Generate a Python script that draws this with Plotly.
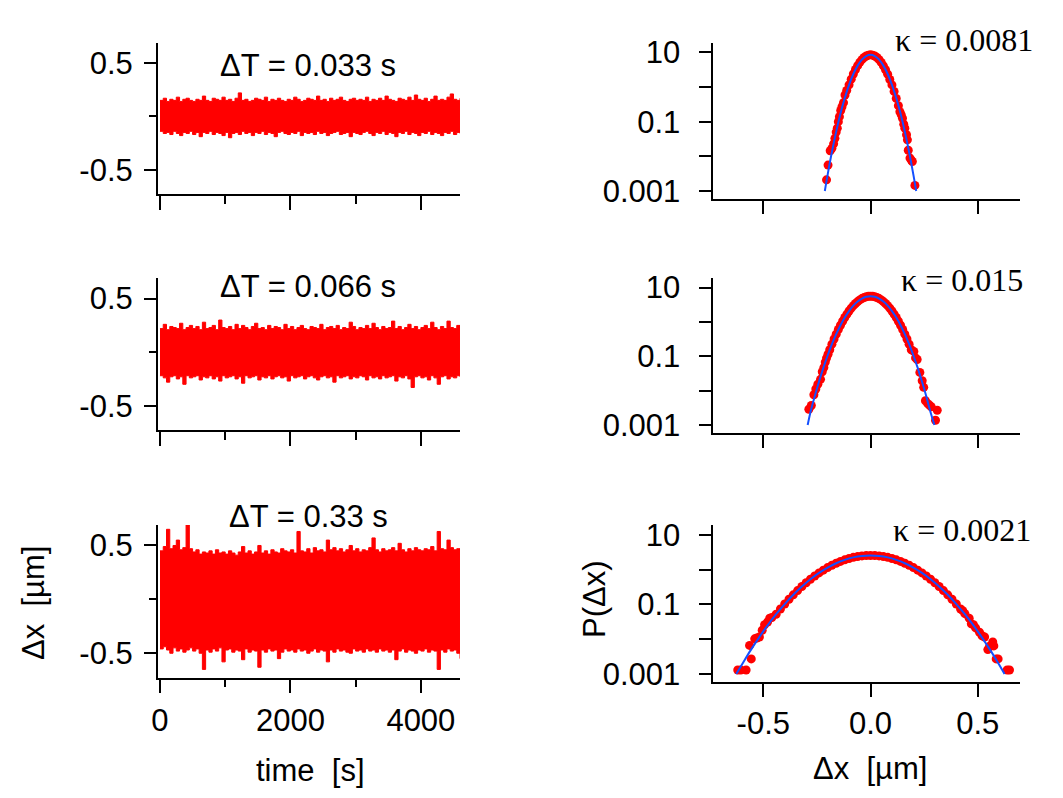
import plotly.graph_objects as go

W, H = 1063, 798

# ---------------- time series envelopes ----------------
t_s = list(range(0, 4601, 50))

U1 = [0.15,0.17,0.14,0.16,0.15,0.18,0.14,0.16,0.17,0.15,
      0.14,0.16,0.15,0.19,0.15,0.14,0.17,0.16,0.15,0.18,
      0.15,0.16,0.14,0.17,0.22,0.15,0.16,0.14,0.15,0.17,
      0.16,0.15,0.18,0.14,0.16,0.15,0.17,0.15,0.14,0.16,
      0.15,0.18,0.16,0.14,0.15,0.17,0.16,0.15,0.19,0.15,
      0.16,0.14,0.17,0.15,0.16,0.18,0.15,0.14,0.16,0.17,
      0.15,0.16,0.15,0.18,0.14,0.16,0.15,0.17,0.15,0.19,
      0.16,0.15,0.14,0.17,0.16,0.15,0.18,0.15,0.20,0.16,
      0.15,0.17,0.14,0.16,0.19,0.15,0.16,0.15,0.18,0.21,
      0.16,0.15,0.17]
L1 = [-0.14,-0.16,-0.15,-0.17,-0.14,-0.16,-0.18,-0.15,-0.16,-0.14,
      -0.17,-0.15,-0.19,-0.15,-0.16,-0.14,-0.17,-0.15,-0.16,-0.18,
      -0.15,-0.20,-0.16,-0.15,-0.17,-0.14,-0.16,-0.15,-0.18,-0.15,
      -0.16,-0.14,-0.17,-0.15,-0.16,-0.19,-0.15,-0.14,-0.16,-0.17,
      -0.15,-0.16,-0.14,-0.18,-0.15,-0.16,-0.15,-0.17,-0.14,-0.16,
      -0.15,-0.18,-0.16,-0.15,-0.14,-0.17,-0.16,-0.15,-0.19,-0.15,
      -0.16,-0.17,-0.15,-0.14,-0.16,-0.18,-0.15,-0.16,-0.14,-0.17,
      -0.15,-0.16,-0.19,-0.15,-0.16,-0.14,-0.17,-0.15,-0.16,-0.18,
      -0.15,-0.16,-0.14,-0.17,-0.15,-0.16,-0.18,-0.15,-0.16,-0.14,
      -0.17,-0.15,-0.16]

U2 = [0.22,0.26,0.21,0.24,0.23,0.22,0.27,0.21,0.23,0.25,
      0.22,0.24,0.21,0.28,0.22,0.23,0.25,0.21,0.30,0.23,
      0.22,0.24,0.21,0.26,0.22,0.25,0.23,0.21,0.24,0.27,
      0.22,0.23,0.21,0.25,0.22,0.24,0.23,0.21,0.26,0.22,
      0.24,0.21,0.23,0.25,0.22,0.21,0.24,0.23,0.22,0.26,
      0.21,0.23,0.24,0.22,0.25,0.21,0.23,0.22,0.28,0.24,
      0.21,0.23,0.22,0.25,0.22,0.27,0.23,0.21,0.24,0.22,
      0.23,0.29,0.22,0.24,0.21,0.23,0.26,0.22,0.24,0.21,
      0.23,0.25,0.22,0.28,0.23,0.21,0.24,0.22,0.29,0.23,
      0.22,0.25,0.23]
L2 = [-0.22,-0.24,-0.28,-0.23,-0.22,-0.25,-0.23,-0.30,-0.22,-0.24,
      -0.23,-0.22,-0.26,-0.23,-0.24,-0.22,-0.25,-0.23,-0.27,-0.22,
      -0.24,-0.23,-0.22,-0.25,-0.23,-0.29,-0.22,-0.24,-0.23,-0.22,
      -0.26,-0.23,-0.24,-0.22,-0.25,-0.23,-0.22,-0.24,-0.23,-0.27,
      -0.22,-0.24,-0.23,-0.22,-0.25,-0.23,-0.22,-0.24,-0.26,-0.23,
      -0.22,-0.24,-0.23,-0.28,-0.22,-0.24,-0.23,-0.22,-0.25,-0.23,
      -0.24,-0.22,-0.23,-0.26,-0.22,-0.24,-0.23,-0.25,-0.22,-0.24,
      -0.23,-0.22,-0.27,-0.23,-0.24,-0.22,-0.25,-0.33,-0.23,-0.22,
      -0.24,-0.23,-0.26,-0.22,-0.24,-0.30,-0.23,-0.22,-0.25,-0.23,
      -0.24,-0.22,-0.23]

U3 = [0.45,0.49,0.65,0.47,0.50,0.55,0.46,0.48,0.69,0.47,
      0.44,0.46,0.42,0.44,0.43,0.45,0.42,0.46,0.43,0.44,
      0.42,0.45,0.43,0.41,0.44,0.49,0.43,0.45,0.42,0.44,
      0.50,0.43,0.45,0.42,0.46,0.44,0.43,0.47,0.45,0.44,
      0.46,0.43,0.63,0.45,0.44,0.47,0.43,0.48,0.45,0.46,
      0.44,0.55,0.46,0.48,0.45,0.47,0.44,0.46,0.50,0.45,
      0.47,0.44,0.46,0.45,0.48,0.57,0.46,0.44,0.47,0.45,
      0.46,0.48,0.45,0.52,0.46,0.44,0.47,0.45,0.48,0.46,
      0.45,0.47,0.46,0.49,0.45,0.63,0.47,0.46,0.55,0.48,
      0.46,0.47,0.45]
L3 = [-0.46,-0.44,-0.47,-0.50,-0.45,-0.48,-0.46,-0.49,-0.47,-0.45,
      -0.48,-0.46,-0.50,-0.65,-0.47,-0.49,-0.46,-0.48,-0.45,-0.58,
      -0.47,-0.46,-0.49,-0.47,-0.48,-0.56,-0.46,-0.49,-0.47,-0.48,
      -0.63,-0.47,-0.49,-0.46,-0.48,-0.47,-0.55,-0.49,-0.46,-0.48,
      -0.47,-0.49,-0.46,-0.48,-0.47,-0.50,-0.48,-0.46,-0.49,-0.47,
      -0.48,-0.58,-0.47,-0.49,-0.46,-0.48,-0.47,-0.49,-0.50,-0.46,
      -0.48,-0.47,-0.49,-0.46,-0.48,-0.47,-0.49,-0.46,-0.48,-0.47,
      -0.49,-0.47,-0.56,-0.48,-0.46,-0.49,-0.47,-0.48,-0.50,-0.47,
      -0.48,-0.46,-0.49,-0.47,-0.48,-0.65,-0.47,-0.49,-0.46,-0.48,
      -0.47,-0.50,-0.55]

dT_labels = ["\u0394T = 0.033 s", "\u0394T = 0.066 s", "\u0394T = 0.33 s"]

# ---------------- histograms P(dx) ----------------
H1_x = [-0.205,-0.198,-0.188,-0.180,-0.172,-0.166,-0.160,-0.155,-0.150,-0.145,
        -0.139,-0.133,-0.126,-0.119,-0.111,-0.10,-0.09,-0.08,-0.07,-0.06,
        -0.05,-0.04,-0.03,-0.02,-0.01,0.0,0.01,0.02,0.03,0.04,
        0.05,0.06,0.07,0.08,0.09,0.10,0.11,0.12,0.13,0.137,
        0.143,0.149,0.155,0.160,0.168,0.172,0.176,0.184,0.190,0.195,0.207]
H1_p = [0.0021,0.0056,0.0145,0.017,0.023,0.033,0.05,0.065,0.10,0.14,
        0.21,0.27,0.355,0.59,0.80,1.16,1.69,2.38,3.2,4.15,
        5.17,6.18,7.11,7.86,8.34,8.51,8.34,7.86,7.11,6.18,
        5.15,4.1,3.15,2.35,1.65,1.15,0.75,0.47,0.29,0.195,
        0.16,0.126,0.085,0.065,0.042,0.03,0.015,0.0089,0.0078,0.0071,0.00145]

H2_x = [-0.2875,-0.276,-0.264,-0.255,-0.2455,-0.233,-0.225,-0.2175,-0.211,-0.205,
        -0.198,-0.19,-0.18,-0.17,-0.16,-0.15,-0.14,-0.13,-0.12,-0.11,
        -0.10,-0.09,-0.08,-0.07,-0.06,-0.05,-0.04,-0.03,-0.02,-0.01,
        0.0,0.01,0.02,0.03,0.04,0.05,0.06,0.07,0.08,0.09,
        0.10,0.11,0.12,0.13,0.14,0.15,0.16,0.17,0.18,0.19,
        0.202,0.21,0.2175,0.23,0.241,0.248,0.256,0.267,0.275,0.283,0.303,0.311]
H2_p = [0.00288,0.0037,0.0076,0.0112,0.0155,0.0214,0.0355,0.047,0.068,0.089,
        0.115,0.156,0.226,0.319,0.443,0.603,0.804,1.05,1.35,1.69,
        2.08,2.52,2.98,3.46,3.93,4.39,4.80,5.14,5.40,5.57,
        5.62,5.57,5.40,5.14,4.80,4.39,3.93,3.46,2.98,2.52,
        2.08,1.69,1.35,1.05,0.804,0.603,0.443,0.319,0.226,0.156,
        0.139,0.09,0.081,0.034,0.0195,0.0125,0.0051,0.0042,0.0038,0.0034,0.00138,0.0027]

H3_x = [-0.619,-0.605,-0.58,-0.564,-0.556,-0.54,-0.53,-0.518,-0.505,-0.494,
        -0.48,-0.47,-0.46,-0.44,-0.42,-0.40,-0.38,-0.36,-0.34,-0.32,
        -0.30,-0.28,-0.26,-0.24,-0.22,-0.20,-0.18,-0.16,-0.14,-0.12,
        -0.10,-0.08,-0.06,-0.04,-0.02,0.0,0.02,0.04,0.06,0.08,
        0.10,0.12,0.14,0.16,0.18,0.20,0.22,0.24,0.26,0.28,
        0.30,0.32,0.34,0.36,0.38,0.40,0.42,0.43,0.44,0.46,
        0.47,0.48,0.49,0.508,0.52,0.532,0.547,0.555,0.57,0.575,
        0.586,0.595,0.637,0.648]
H3_p = [0.0013,0.0013,0.0013,0.0066,0.0027,0.0102,0.0108,0.0115,0.018,0.026,
        0.031,0.04,0.042,0.052,0.0736,0.102,0.140,0.188,0.249,0.325,
        0.417,0.526,0.654,0.799,0.962,1.14,1.33,1.52,1.71,1.90,
        2.08,2.24,2.36,2.46,2.52,2.54,2.52,2.46,2.36,2.24,
        2.08,1.90,1.71,1.52,1.33,1.14,0.962,0.799,0.654,0.526,
        0.417,0.325,0.249,0.188,0.140,0.102,0.0736,0.066,0.054,0.040,
        0.0275,0.026,0.021,0.0158,0.0125,0.0115,0.005,0.0062,0.0083,0.0064,
        0.0027,0.0027,0.0013,0.0013]

# Gaussian fit curves
F1_x = [-0.213,-0.20,-0.18,-0.16,-0.14,-0.12,-0.10,-0.08,-0.06,-0.04,-0.02,0.0,
        0.02,0.04,0.06,0.08,0.10,0.12,0.14,0.16,0.18,0.20,0.213]
F1_p = [0.001,0.00292,0.0133,0.0516,0.171,0.482,1.16,2.38,4.15,6.18,7.86,8.51,
        7.86,6.18,4.15,2.38,1.16,0.482,0.171,0.0516,0.0133,0.00292,0.001]
F2_x = [-0.293,-0.28,-0.26,-0.24,-0.22,-0.20,-0.18,-0.16,-0.14,-0.12,-0.10,-0.08,-0.06,-0.04,-0.02,0.0,
        0.02,0.04,0.06,0.08,0.10,0.12,0.14,0.16,0.18,0.20,0.22,0.24,0.26,0.28,0.298]
F2_p = [0.001,0.00235,0.00686,0.0185,0.0461,0.106,0.226,0.443,0.804,1.35,2.08,2.98,3.93,4.80,5.40,5.62,
        5.40,4.80,3.93,2.98,2.08,1.35,0.804,0.443,0.226,0.106,0.0461,0.0185,0.00686,0.00235,0.001]
F3_x = [-0.626,-0.60,-0.56,-0.52,-0.48,-0.44,-0.40,-0.36,-0.32,-0.28,-0.24,-0.20,-0.16,-0.12,-0.08,-0.04,0.0,
        0.04,0.08,0.12,0.16,0.20,0.24,0.28,0.32,0.36,0.40,0.44,0.48,0.52,0.56,0.60,0.625]
F3_p = [0.001,0.00184,0.00468,0.0111,0.0249,0.0521,0.102,0.188,0.325,0.526,0.799,1.14,1.52,1.90,2.24,2.46,2.54,
        2.46,2.24,1.90,1.52,1.14,0.799,0.526,0.325,0.188,0.102,0.0521,0.0249,0.0111,0.00468,0.00184,0.001]

kappa_labels = ["\u03ba = 0.0081", "\u03ba = 0.015", "\u03ba = 0.0021"]

# ---------------- figure ----------------
RED = "#ff0000"
BLUE = "#1450ff"
SANS = "Liberation Sans, Arial, Helvetica, sans-serif"
SERIF = "Liberation Serif, Times New Roman, serif"
FS = 31

fig = go.Figure()

series = [(U1, L1), (U2, L2), (U3, L3)]
hists = [(H1_x, H1_p, F1_x, F1_p), (H2_x, H2_p, F2_x, F2_p), (H3_x, H3_p, F3_x, F3_p)]

for r in range(3):
    li = 2 * r + 1
    ri = 2 * r + 2
    lx = "x" if li == 1 else f"x{li}"
    ly = "y" if li == 1 else f"y{li}"
    rx = f"x{ri}"
    ry = f"y{ri}"
    up, lo = series[r]
    fig.add_trace(go.Scatter(x=t_s, y=lo, mode="lines", line=dict(color=RED, width=1, shape="hv"),
                             xaxis=lx, yaxis=ly, hoverinfo="skip", showlegend=False))
    fig.add_trace(go.Scatter(x=t_s, y=up, mode="lines", line=dict(color=RED, width=1, shape="hv"),
                             fill="tonexty", fillcolor=RED,
                             xaxis=lx, yaxis=ly, hoverinfo="skip", showlegend=False))
    hx, hp, fx, fp = hists[r]
    fig.add_trace(go.Scatter(x=hx, y=hp, mode="markers", marker=dict(color=RED, size=9, line=dict(width=0)),
                             xaxis=rx, yaxis=ry, showlegend=False, cliponaxis=False))
    fig.add_trace(go.Scatter(x=fx, y=fp, mode="lines", line=dict(color=BLUE, width=2, shape="spline"),
                             xaxis=rx, yaxis=ry, showlegend=False))

def px_x(v):
    return v / W

def px_y(v):
    return 1 - v / H

left_dom = [px_x(157.7), px_x(460)]
right_dom = [px_x(713.3), px_x(1020)]
left_rows = [(42.7, 194), (278.3, 430), (525, 677.7)]
right_rows = [(42.7, 199.3), (278, 433.3), (525, 682.3)]

axis_common = dict(showline=True, linecolor="black", linewidth=1.5, ticks="outside",
                   tickcolor="black", tickwidth=1.5, showgrid=False, zeroline=False,
                   automargin=False,
                   tickfont=dict(family=SANS, size=FS, color="black"))

layout = {}
for r in range(3):
    li = 2 * r + 1
    ri = 2 * r + 2
    lxk = "xaxis" if li == 1 else f"xaxis{li}"
    lyk = "yaxis" if li == 1 else f"yaxis{li}"
    lx = "x" if li == 1 else f"x{li}"
    ly = "y" if li == 1 else f"y{li}"
    last = (r == 2)
    layout[lxk] = dict(axis_common, domain=left_dom, anchor=ly, range=[-35, 4600],
                       tickmode="array", tickvals=[0, 2000, 4000],
                       ticktext=["0", "2000", "4000"] if last else ["", "", ""],
                       ticklen=14,
                       minor=dict(tickmode="array", tickvals=[1000, 3000], ticklen=8,
                                  tickwidth=1.5, tickcolor="black", ticks="outside", showgrid=False))
    top, bot = left_rows[r]
    layout[lyk] = dict(axis_common, domain=[px_y(bot), px_y(top)], anchor=lx, range=[-0.727, 0.69],
                       tickmode="array", tickvals=[-0.5, 0.5], ticktext=["-0.5", "0.5"], ticklen=12,
                       ticklabelstandoff=5,
                       minor=dict(tickmode="array", tickvals=[0], ticklen=7,
                                  tickwidth=1.5, tickcolor="black", ticks="outside", showgrid=False))
    top, bot = right_rows[r]
    layout[f"xaxis{ri}"] = dict(axis_common, domain=right_dom, anchor=f"y{ri}", range=[-0.733, 0.697],
                                tickmode="array", tickvals=[-0.5, 0, 0.5],
                                ticktext=["-0.5", "0.0", "0.5"] if last else ["", "", ""],
                                ticklen=13)
    layout[f"yaxis{ri}"] = dict(axis_common, domain=[px_y(bot), px_y(top)], anchor=f"x{ri}",
                                type="log", range=[-3.24, 1.28],
                                tickmode="array", tickvals=[0.001, 0.01, 0.1, 1, 10],
                                ticktext=["0.001", "", "0.1", "", "10"], ticklen=13,
                                ticklabelstandoff=12)

annotations = []
dT_pos = [65.7, 286.7, 516.7]
for r in range(3):
    annotations.append(dict(text=dT_labels[r], x=px_x(308), y=px_y(dT_pos[r]), xref="paper", yref="paper",
                            xanchor="center", yanchor="middle", showarrow=False,
                            font=dict(family=SANS, size=FS, color="black")))
k_pos = [(1035, 40), (1025, 280), (1033, 530)]
for r in range(3):
    kx, ky = k_pos[r]
    annotations.append(dict(text=kappa_labels[r], x=px_x(kx), y=px_y(ky), xref="paper", yref="paper",
                            xanchor="right", yanchor="middle", showarrow=False,
                            font=dict(family=SERIF, size=32, color="black")))
annotations += [
    dict(text="time \u00a0[s]", x=px_x(310), y=px_y(770), xref="paper", yref="paper",
         xanchor="center", yanchor="middle", showarrow=False, font=dict(family=SANS, size=FS, color="black")),
    dict(text="\u0394x \u00a0[\u00b5m]", x=px_x(870), y=px_y(768), xref="paper", yref="paper",
         xanchor="center", yanchor="middle", showarrow=False, font=dict(family=SANS, size=FS, color="black")),
    dict(text="\u0394x \u00a0[\u00b5m]", x=px_x(33), y=px_y(603), xref="paper", yref="paper",
         xanchor="center", yanchor="middle", textangle=-90, showarrow=False,
         font=dict(family=SANS, size=FS, color="black")),
    dict(text="P(\u0394x)", x=px_x(594), y=px_y(599), xref="paper", yref="paper",
         xanchor="center", yanchor="middle", textangle=-90, showarrow=False,
         font=dict(family=SANS, size=FS, color="black")),
]

fig.update_layout(template="none", width=W, height=H, margin=dict(l=0, r=0, t=0, b=0, pad=0),
                  paper_bgcolor="white", plot_bgcolor="white", showlegend=False,
                  annotations=annotations, **layout)

fig.write_html("out.html")
